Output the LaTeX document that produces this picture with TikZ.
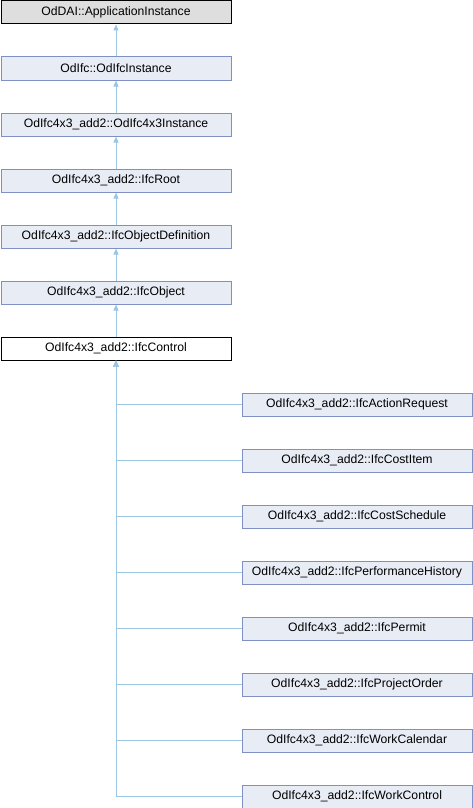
\documentclass[tikz,border=0pt]{standalone}
\usepackage{fontspec}
\setmainfont{Liberation Sans}
\usetikzlibrary{arrows.meta}
\definecolor{boxfill}{HTML}{E8ECF5}
\definecolor{boxdraw}{HTML}{7F90C4}
\definecolor{edgecol}{HTML}{9CC7E4}
\definecolor{rootfill}{HTML}{DEDEDE}
\tikzset{
  cls/.style={draw=boxdraw, fill=boxfill, line width=1pt, minimum width=230pt, minimum height=23pt, inner sep=0pt, font=\fontsize{12.2}{14}\selectfont, anchor=north west},
  rootcls/.style={cls, draw=black, fill=rootfill},
  curcls/.style={cls, draw=black, fill=white},
  inh/.style={draw=edgecol, line width=1pt, -{Triangle[width=5pt,length=6pt]}},
}
\begin{document}
\begin{tikzpicture}[x=1pt,y=-1pt]
\useasboundingbox (0,0) rectangle (472,808);
\node[rootcls] (a) at (0.5,0.5) {OdDAI::ApplicationInstance};
\node[cls] (b) at (0.5,56.5) {OdIfc::OdIfcInstance};
\node[cls] (c) at (0.5,112.5) {OdIfc4x3\_add2::OdIfc4x3Instance};
\node[cls] (d) at (0.5,168.5) {OdIfc4x3\_add2::IfcRoot};
\node[cls] (e) at (0.5,224.5) {OdIfc4x3\_add2::IfcObjectDefinition};
\node[cls] (f) at (0.5,280.5) {OdIfc4x3\_add2::IfcObject};
\node[curcls] (g) at (0.5,336.5) {OdIfc4x3\_add2::IfcControl};
\node[cls] (k1) at (241.5,392.5) {OdIfc4x3\_add2::IfcActionRequest};
\node[cls] (k2) at (241.5,448.5) {OdIfc4x3\_add2::IfcCostItem};
\node[cls] (k3) at (241.5,504.5) {OdIfc4x3\_add2::IfcCostSchedule};
\node[cls] (k4) at (241.5,560.5) {OdIfc4x3\_add2::IfcPerformanceHistory};
\node[cls] (k5) at (241.5,616.5) {OdIfc4x3\_add2::IfcPermit};
\node[cls] (k6) at (241.5,672.5) {OdIfc4x3\_add2::IfcProjectOrder};
\node[cls] (k7) at (241.5,728.5) {OdIfc4x3\_add2::IfcWorkCalendar};
\node[cls] (k8) at (241.5,784.5) {OdIfc4x3\_add2::IfcWorkControl};
\draw[inh] (b) -- (a);
\draw[inh] (c) -- (b);
\draw[inh] (d) -- (c);
\draw[inh] (e) -- (d);
\draw[inh] (f) -- (e);
\draw[inh] (g) -- (f);
\foreach \k in {k1,k2,k3,k4,k5,k6,k7,k8}{
  \draw[inh] (\k.west) -| (g.south);
}
\end{tikzpicture}
\end{document}
